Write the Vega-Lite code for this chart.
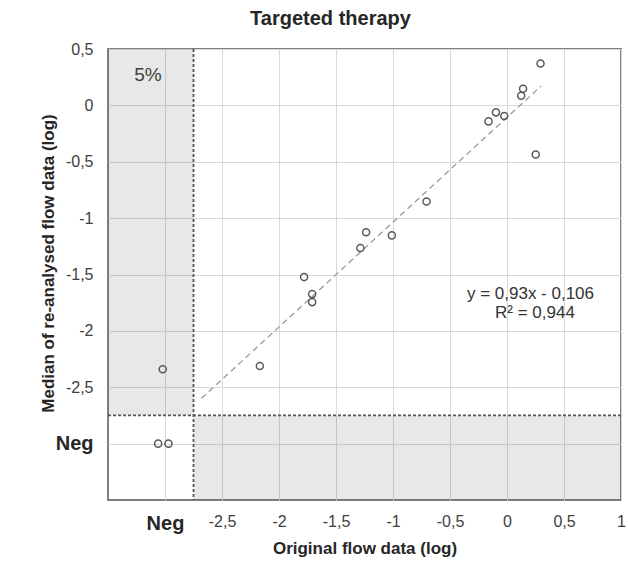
{
  "$schema": "https://vega.github.io/schema/vega-lite/v6.json",
  "autosize": {"type": "none"},
  "width": 513,
  "height": 451,
  "padding": {"left": 108, "top": 49, "right": 7, "bottom": 63},
  "background": "white",
  "config": {
    "font": "Liberation Sans",
    "view": {"stroke": "#808080", "strokeWidth": 2},
    "axis": {"gridColor": "#d9d9d9", "gridWidth": 1}
  },
  "title": {
    "text": "Targeted therapy",
    "fontSize": 20,
    "fontWeight": "bold",
    "color": "#262626",
    "anchor": "middle",
    "dx": -34,
    "baseline": "alphabetic",
    "offset": -4
  },
  "datasets": {
    "points": [
      {"x": 0.294, "y": 0.371},
      {"x": 0.141, "y": 0.148},
      {"x": 0.124, "y": 0.086},
      {"x": -0.097, "y": -0.062},
      {"x": -0.024, "y": -0.095},
      {"x": -0.162, "y": -0.142},
      {"x": 0.252, "y": -0.436},
      {"x": -0.706, "y": -0.853},
      {"x": -1.236, "y": -1.126},
      {"x": -1.010, "y": -1.153},
      {"x": -1.286, "y": -1.265},
      {"x": -1.78, "y": -1.523},
      {"x": -1.709, "y": -1.674},
      {"x": -1.709, "y": -1.745},
      {"x": -2.168, "y": -2.311},
      {"x": -3.02, "y": -2.34},
      {"x": -3.06, "y": -3.0},
      {"x": -2.97, "y": -3.0}
    ],
    "regions": [
      {"x": -3.5, "x2": -2.75, "y": -2.75, "y2": 0.5},
      {"x": -2.75, "x2": 1, "y": -3.5, "y2": -2.75}
    ],
    "trend": [
      {"x": -2.68, "y": -2.598},
      {"x": 0.3, "y": 0.173}
    ],
    "labels": [
      {"x": 0.206, "y": -1.716, "label": "y = 0,93x - 0,106"},
      {"x": 0.245, "y": -1.882, "label": "R² = 0,944"}
    ],
    "pct": [{"x": -3.15, "y": 0.27, "label": "5%"}],
    "cut": [{"v": -2.75}]
  },
  "encoding": {
    "x": {
      "field": "x",
      "type": "quantitative",
      "scale": {"domain": [-3.5, 1], "nice": false, "zero": false},
      "axis": {
        "values": [-3, -2.5, -2, -1.5, -1, -0.5, 0, 0.5, 1],
        "grid": true,
        "ticks": false,
        "domain": false,
        "labelFlush": false,
        "labelOverlap": false,
        "labelPadding": 13,
        "labelExpr": "datum.value == -3 ? 'Neg' : replace(toString(datum.value), '.', ',')",
        "labelFontSize": {"condition": {"test": "datum.value == -3", "value": 20}, "value": 16},
        "labelFontWeight": {"condition": {"test": "datum.value == -3", "value": "bold"}, "value": "normal"},
        "labelColor": {"condition": {"test": "datum.value == -3", "value": "#262626"}, "value": "#404040"},
        "title": "Original flow data (log)",
        "titleFontSize": 17,
        "titleFontWeight": "bold",
        "titleColor": "#262626",
        "titleBaseline": "alphabetic",
        "titleY": 53
      }
    },
    "y": {
      "field": "y",
      "type": "quantitative",
      "scale": {"domain": [-3.5, 0.5], "nice": false, "zero": false},
      "axis": {
        "values": [-3, -2.5, -2, -1.5, -1, -0.5, 0, 0.5],
        "grid": true,
        "ticks": false,
        "domain": false,
        "labelFlush": false,
        "labelOverlap": false,
        "labelPadding": 15,
        "labelExpr": "datum.value == -3 ? 'Neg' : replace(toString(datum.value), '.', ',')",
        "labelFontSize": {"condition": {"test": "datum.value == -3", "value": 20}, "value": 16},
        "labelFontWeight": {"condition": {"test": "datum.value == -3", "value": "bold"}, "value": "normal"},
        "labelColor": {"condition": {"test": "datum.value == -3", "value": "#262626"}, "value": "#404040"},
        "title": "Median of re-analysed flow data (log)",
        "titleFontSize": 17,
        "titleFontWeight": "bold",
        "titleColor": "#262626",
        "titleBaseline": "middle",
        "titleAngle": -90,
        "titleX": -60,
        "titleY": 214
      }
    }
  },
  "layer": [
    {
      "data": {"name": "regions"},
      "mark": {"type": "rect", "fill": "#000000", "opacity": 0.09},
      "encoding": {
        "x2": {"field": "x2"},
        "y2": {"field": "y2"}
      }
    },
    {
      "data": {"name": "cut"},
      "mark": {"type": "rule", "color": "#555555", "strokeWidth": 1.8, "strokeDash": [3, 2]},
      "encoding": {"x": {"field": "v", "type": "quantitative"}, "y": null}
    },
    {
      "data": {"name": "cut"},
      "mark": {"type": "rule", "color": "#555555", "strokeWidth": 1.8, "strokeDash": [3, 2]},
      "encoding": {"y": {"field": "v", "type": "quantitative"}, "x": null}
    },
    {
      "data": {"name": "trend"},
      "mark": {"type": "line", "color": "#999999", "strokeWidth": 1.3, "strokeDash": [6, 4]},
      "encoding": {}
    },
    {
      "data": {"name": "points"},
      "mark": {"type": "point", "shape": "circle", "filled": false, "stroke": "#595959", "strokeWidth": 1.5, "size": 50, "opacity": 1}
    },
    {
      "data": {"name": "labels"},
      "mark": {"type": "text", "fontSize": 17, "color": "#333333", "align": "center", "baseline": "alphabetic"},
      "encoding": {"text": {"field": "label"}}
    },
    {
      "data": {"name": "pct"},
      "mark": {"type": "text", "fontSize": 19, "color": "#404040", "align": "center", "baseline": "middle"},
      "encoding": {"text": {"field": "label"}}
    }
  ]
}
